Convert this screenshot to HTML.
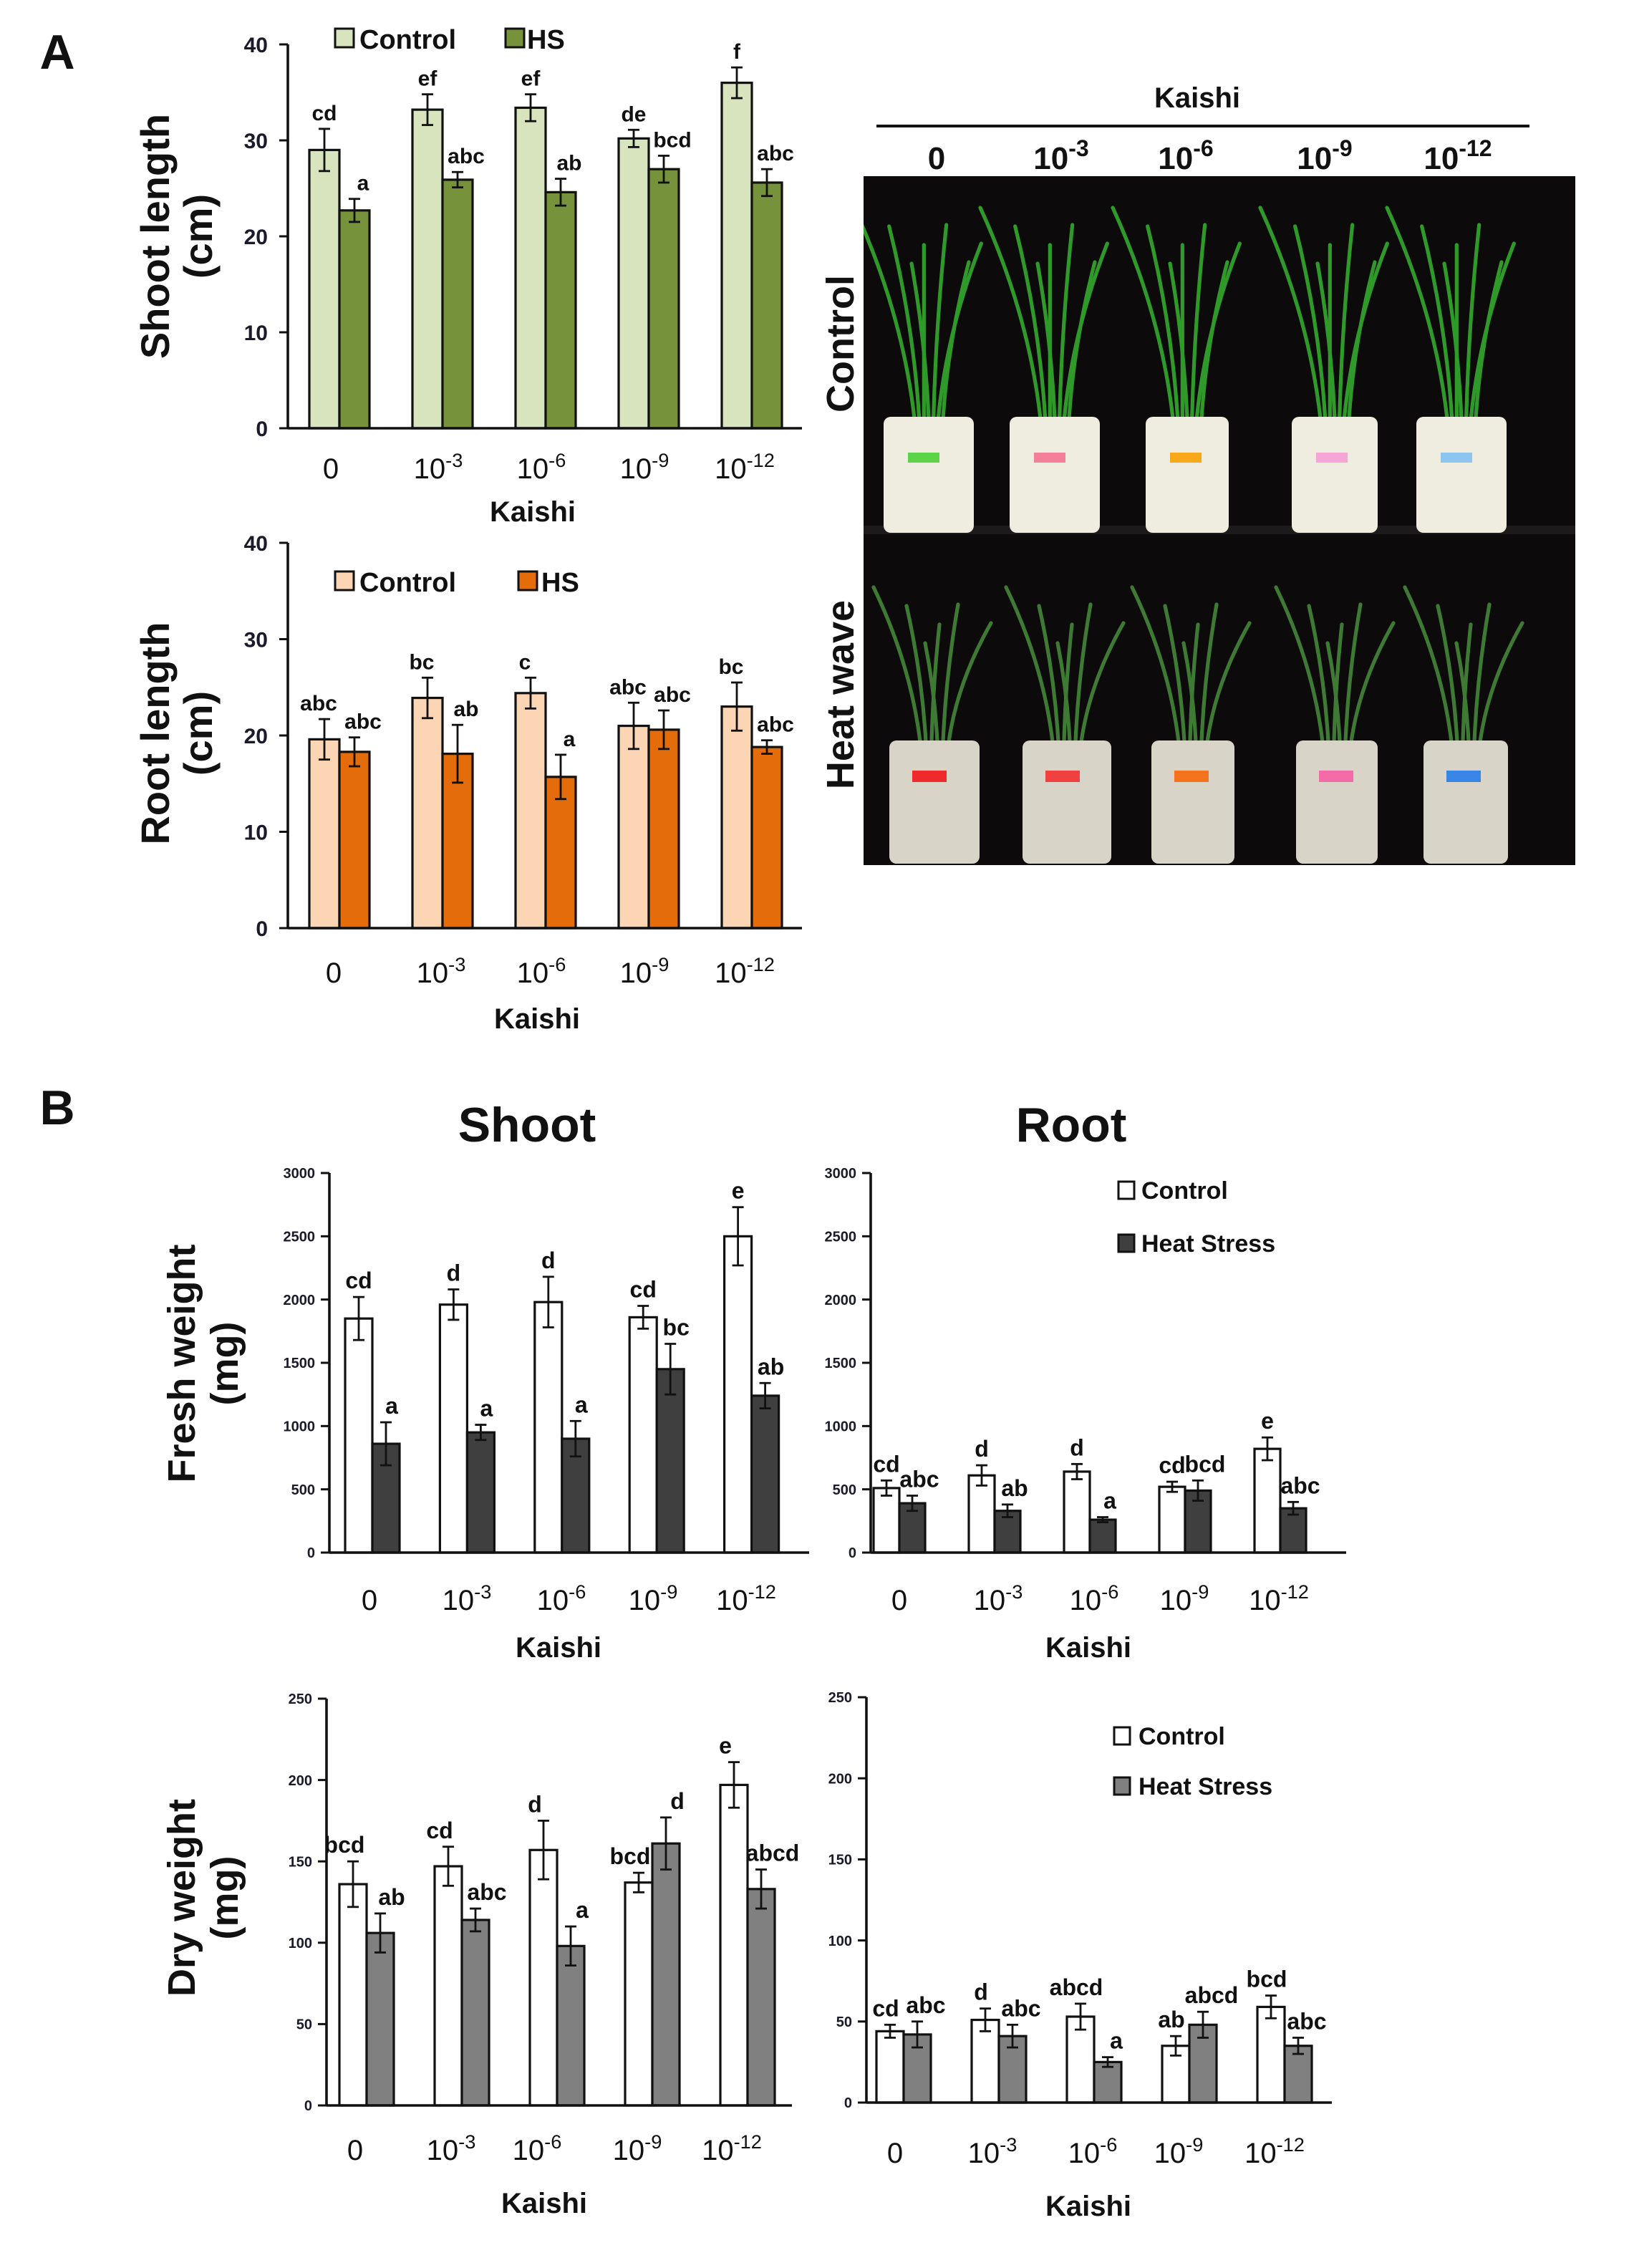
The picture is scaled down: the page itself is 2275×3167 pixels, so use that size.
<!DOCTYPE html>
<html><head><meta charset="utf-8">
<style>
html,body{margin:0;padding:0;background:#fff}
svg{display:block}
text{font-family:"Liberation Sans",Arial,sans-serif}
</style></head>
<body>
<svg id="s" xmlns="http://www.w3.org/2000/svg" width="2275" height="3167" viewBox="0 0 1137.5 1583.5">
<defs><clipPath id="ph"><rect x="603" y="123" width="497" height="481"/></clipPath></defs>
<rect width="1137.5" height="1583.5" fill="#fff"/>
<g id="photo" clip-path="url(#ph)"></g>
</svg>
<script>
const S=document.getElementById('s');const NS='http://www.w3.org/2000/svg';const P=document.getElementById('photo');
function el(t,a,txt,par){const e=document.createElementNS(NS,t);for(const k in a)e.setAttribute(k,a[k]);if(txt!=null)e.textContent=txt;(par||S).appendChild(e);return e;}
function T(x,y,s,o){o=o||{};const a={x:x,y:y,'font-size':o.size||16,'font-weight':o.w||'bold','text-anchor':o.a||'middle',fill:o.fill||'#111'};if(o.rot)a.transform=`rotate(-90 ${x} ${y})`;return el('text',a,s);}
function cat(x,y,i,size){const labs=['','-3','-6','-9','-12'];
 if(i==0){T(x,y,'0',{size:size,w:'normal'});return;}
 const t=el('text',{x:x,y:y,'font-size':size,'text-anchor':'middle',fill:'#111'});
 const a=document.createElementNS(NS,'tspan');a.textContent='10';t.appendChild(a);
 const b=document.createElementNS(NS,'tspan');b.setAttribute('dy',-size*0.4);b.setAttribute('font-size',size*0.68);b.textContent=labs[i];t.appendChild(b);}
function chart(c){
 const sc=(c.y0-c.yTop)/c.max;
 for(let i=0;i<5;i++){
  const xs=[c.x0+c.sp*i,c.x0+c.sp*i+c.bw];
  [0,1].forEach(k=>{
   const v=c.vals[k][i],e=c.err[k][i],h=v*sc,x=xs[k];
   el('rect',{x:x,y:c.y0-h,width:c.bw,height:h,fill:c.col[k],stroke:'#111','stroke-width':c.sw||1.6});
   const cx=x+c.bw/2,ya=c.y0-(v+e)*sc,yb=c.y0-(v-e)*sc;
   el('line',{x1:cx,y1:ya,x2:cx,y2:yb,stroke:'#111','stroke-width':1.4});
   el('line',{x1:cx-4,y1:ya,x2:cx+4,y2:ya,stroke:'#111','stroke-width':1.4});
   el('line',{x1:cx-4,y1:yb,x2:cx+4,y2:yb,stroke:'#111','stroke-width':1.4});
   T(cx+(c.loff?c.loff[k]:0),ya-6,c.let[k][i],{size:c.lsize});
  });
  cat(c.catx[i],c.caty,i,c.csize);
 }
 el('line',{x1:c.ax,y1:c.yTop,x2:c.ax,y2:c.y0,stroke:'#111','stroke-width':1.8});
 el('line',{x1:c.ax,y1:c.y0,x2:c.xEnd,y2:c.y0,stroke:'#111','stroke-width':1.8});
 for(let t=0;t<=c.max;t+=c.step){const y=c.y0-t*sc;
  el('line',{x1:c.ax-6,y1:y,x2:c.ax,y2:y,stroke:'#111','stroke-width':1.5});
  T(c.ax-(c.tdx||12),y+c.tsize*0.36,String(t),{size:c.tsize,a:'end',fill:'#1a1a2a'});}
 T(c.kx,c.ky,'Kaishi',{size:c.ksize||20,w:'bold'});
}
T(40,48,'A',{size:34});T(40,785,'B',{size:34});
chart({ax:201,y0:299,yTop:31,max:40,step:10,xEnd:560,x0:216,sp:72,bw:21,
 vals:[[29,33.2,33.4,30.2,36],[22.7,25.9,24.6,27,25.6]],err:[[2.2,1.6,1.4,0.9,1.6],[1.2,0.8,1.4,1.4,1.4]],
 let:[['cd','ef','ef','de','f'],['a','abc','ab','bcd','abc']],loff:[0,6],
 col:['#d7e4bd','#76933c'],lsize:15,tsize:15,tdx:14,catx:[231,306,378,450,520],caty:334,csize:20,kx:372,ky:364});
el('rect',{x:234,y:20,width:13,height:13,fill:'#d7e4bd',stroke:'#111','stroke-width':1.5});T(251,34,'Control',{size:19,a:'start'});
el('rect',{x:353,y:20,width:13,height:13,fill:'#76933c',stroke:'#111','stroke-width':1.5});T(368,34,'HS',{size:19,a:'start'});
T(118,165,'Shoot length',{size:28,rot:1});T(148,165,'(cm)',{size:28,rot:1});

chart({ax:201,y0:648,yTop:379,max:40,step:10,xEnd:560,x0:216,sp:72,bw:21,
 vals:[[19.6,23.9,24.4,21,23],[18.3,18.1,15.7,20.6,18.8]],err:[[2.1,2.1,1.6,2.4,2.5],[1.5,3,2.3,2,0.7]],
 let:[['abc','bc','c','abc','bc'],['abc','ab','a','abc','abc']],loff:[-4,6],
 col:['#fcd5b5','#e46c0a'],lsize:15,tsize:15,tdx:14,catx:[233,308,378,450,520],caty:686,csize:20,kx:375,ky:718});
el('rect',{x:234,y:399,width:13,height:13,fill:'#fcd5b5',stroke:'#111','stroke-width':1.5});T(251,413,'Control',{size:19,a:'start'});
el('rect',{x:362,y:399,width:13,height:13,fill:'#e46c0a',stroke:'#111','stroke-width':1.5});T(378,413,'HS',{size:19,a:'start'});
T(118,512,'Root length',{size:28,rot:1});T(148,512,'(cm)',{size:28,rot:1});

// Photo
T(836,75,'Kaishi',{size:20});
el('line',{x1:612,y1:88,x2:1068,y2:88,stroke:'#111','stroke-width':2});
[[654,0],[741,1],[828,2],[925,3],[1018,4]].forEach(([x,i])=>{if(i==0)T(x,118,'0',{size:22});else{const t=el('text',{x:x,y:118,'font-size':22,'font-weight':'bold','text-anchor':'middle',fill:'#111'});t.innerHTML='10<tspan dy="-9" font-size="16">'+['','-3','-6','-9','-12'][i]+'</tspan>';}});
el('rect',{x:603,y:123,width:497,height:481,fill:'#0c0a0a'},null,P);
el('rect',{x:603,y:367,width:497,height:6,fill:'#1c1a1a'},null,P);
T(596,240,'Control',{size:27,rot:1});T(596,485,'Heat wave',{size:27,rot:1});
const cp=[[617,680],[705,768],[800,858],[902,962],[989,1052]];
const hp=[[621,684],[714,776],[804,862],[905,962],[994,1053]];
const tags=['#5bd448','#f37f9a','#f9a81a','#f5a6d6','#8cc6f0'],tags2=['#ee2a2a','#f04040','#f6731e','#f36ca8','#3a86e6'];
function plant(x1,x2,yb,ytop,col,spread,n){const cx=(x1+x2)/2;
 for(let j=0;j<n;j++){const bx=cx-10+j*(20/(n-1));const tx=bx+(j-(n-1)/2)*spread+((j*37)%11-5)*3;const ty=ytop+((j*53)%40);
  el('path',{d:`M${bx},${yb} Q${bx+(tx-bx)*0.2},${(yb+ty)/2} ${tx},${ty}`,stroke:col,'stroke-width':2.6,fill:'none','stroke-linecap':'round'},null,P);}}
cp.forEach(([a,b],i)=>{plant(a,b,292,145,'#2f9a2a',9,7);
 el('rect',{x:a,y:291,width:b-a,height:81,rx:5,fill:'#efece0'},null,P);
 el('rect',{x:a+17,y:316,width:22,height:7,fill:tags[i]},null,P);});
hp.forEach(([a,b],i)=>{plant(a,b,518,410,'#3f7a35',7,6);
 el('rect',{x:a,y:517,width:b-a,height:86,rx:5,fill:'#d9d4c8'},null,P);
 el('rect',{x:a+16,y:538,width:24,height:8,fill:tags2[i]},null,P);});

// Panel B
T(368,797,'Shoot',{size:34});T(748,797,'Root',{size:34});
chart({ax:230,y0:1084,yTop:819,max:3000,step:500,xEnd:565,x0:241,sp:66.2,bw:19,
 vals:[[1850,1960,1980,1860,2500],[860,950,900,1450,1240]],err:[[170,120,200,90,230],[170,60,140,200,100]],
 let:[['cd','d','d','cd','e'],['a','a','a','bc','ab']],loff:[0,4],col:['#fff','#3f3f3f'],lsize:16,tsize:10,tdx:10,
 catx:[258,326,392,456,521],caty:1124,csize:20,kx:390,ky:1157});
chart({ax:608,y0:1084,yTop:819,max:3000,step:500,xEnd:940,x0:610,sp:66.5,bw:18,
 vals:[[510,610,640,520,820],[390,330,260,490,350]],err:[[60,80,60,40,90],[60,50,20,80,50]],
 let:[['cd','d','d','cd','e'],['abc','ab','a','bcd','abc']],loff:[0,5],col:['#fff','#3f3f3f'],lsize:16,tsize:10,tdx:10,
 catx:[628,697,764,827,893],caty:1124,csize:20,kx:760,ky:1157});
el('rect',{x:781,y:825,width:11,height:12,fill:'#fff',stroke:'#111','stroke-width':1.5});T(797,837,'Control',{size:17,a:'start'});
el('rect',{x:781,y:862,width:11,height:12,fill:'#3f3f3f',stroke:'#111','stroke-width':1.5});T(797,874,'Heat Stress',{size:17,a:'start'});
T(136,952,'Fresh weight',{size:27,rot:1});T(166,952,'(mg)',{size:27,rot:1});

chart({ax:228,y0:1470,yTop:1186,max:250,step:50,xEnd:553,x0:237,sp:66.5,bw:19,
 vals:[[136,147,157,137,197],[106,114,98,161,133]],err:[[14,12,18,6,14],[12,7,12,16,12]],
 let:[['bcd','cd','d','bcd','e'],['ab','abc','a','d','abcd']],loff:[-6,8],col:['#fff','#808080'],lsize:16,tsize:10,tdx:10,
 catx:[248,315,375,445,511],caty:1508,csize:20,kx:380,ky:1545});
chart({ax:605,y0:1468,yTop:1185,max:250,step:50,xEnd:930,x0:612,sp:66.5,bw:19,
 vals:[[44,51,53,35,59],[42,41,25,48,35]],err:[[4,7,8,6,7],[8,7,3,8,5]],
 let:[['cd','d','abcd','ab','bcd'],['abc','abc','a','abcd','abc']],loff:[-3,6],col:['#fff','#808080'],lsize:16,tsize:10,tdx:10,
 catx:[625,693,763,823,890],caty:1510,csize:20,kx:760,ky:1547});
el('rect',{x:778,y:1206,width:11,height:12,fill:'#fff',stroke:'#111','stroke-width':1.5});T(795,1218,'Control',{size:17,a:'start'});
el('rect',{x:778,y:1241,width:11,height:12,fill:'#808080',stroke:'#111','stroke-width':1.5});T(795,1253,'Heat Stress',{size:17,a:'start'});
T(136,1325,'Dry weight',{size:27,rot:1});T(166,1325,'(mg)',{size:27,rot:1});
</script>
</body></html>
